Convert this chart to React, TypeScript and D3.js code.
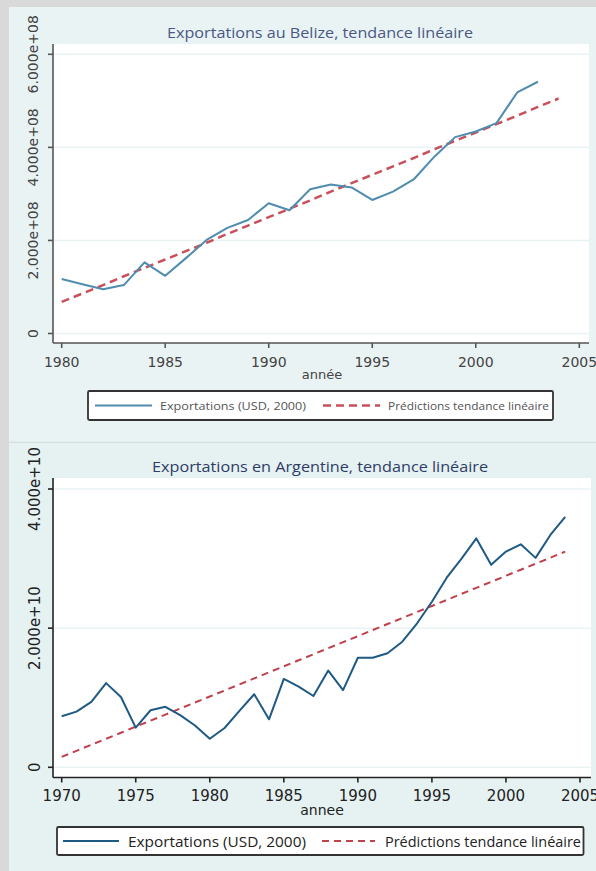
import React from "react";
import * as d3 from "d3";

const belizeYears = [1980,1981,1982,1983,1984,1985,1986,1987,1988,1989,1990,1991,1992,1993,1994,1995,1996,1997,1998,1999,2000,2001,2002,2003];
const belizeExports = [1.17e8,1.06e8,0.95e8,1.04e8,1.53e8,1.24e8,1.62e8,2.01e8,2.27e8,2.44e8,2.80e8,2.65e8,3.10e8,3.20e8,3.14e8,2.87e8,3.05e8,3.31e8,3.80e8,4.22e8,4.34e8,4.52e8,5.18e8,5.41e8];
const belizeTrendYears = [1980,1981,1982,1983,1984,1985,1986,1987,1988,1989,1990,1991,1992,1993,1994,1995,1996,1997,1998,1999,2000,2001,2002,2003,2004];
const belizeTrend = [0.68e8,0.86e8,1.04e8,1.23e8,1.41e8,1.59e8,1.77e8,1.95e8,2.14e8,2.32e8,2.50e8,2.68e8,2.86e8,3.05e8,3.23e8,3.41e8,3.59e8,3.77e8,3.96e8,4.14e8,4.32e8,4.50e8,4.68e8,4.87e8,5.05e8];
const belizeYTicks = [0, 2e8, 4e8, 6e8];
const belizeYLabels = ["0", "2.000e+08", "4.000e+08", "6.000e+08"];
const belizeXTicks = [1980, 1985, 1990, 1995, 2000, 2005];

const argYears = [1970,1971,1972,1973,1974,1975,1976,1977,1978,1979,1980,1981,1982,1983,1984,1985,1986,1987,1988,1989,1990,1991,1992,1993,1994,1995,1996,1997,1998,1999,2000,2001,2002,2003,2004];
const argExports = [0.733e10,0.80e10,0.94e10,1.21e10,1.01e10,0.57e10,0.82e10,0.87e10,0.75e10,0.60e10,0.41e10,0.565e10,0.81e10,1.05e10,0.69e10,1.27e10,1.16e10,1.025e10,1.39e10,1.11e10,1.575e10,1.575e10,1.64e10,1.805e10,2.07e10,2.38e10,2.725e10,3.0e10,3.29e10,2.91e10,3.10e10,3.205e10,3.01e10,3.34e10,3.60e10];
const argTrend = [0.150e10,0.237e10,0.324e10,0.410e10,0.497e10,0.584e10,0.671e10,0.757e10,0.844e10,0.931e10,1.018e10,1.104e10,1.191e10,1.278e10,1.365e10,1.451e10,1.538e10,1.625e10,1.712e10,1.799e10,1.885e10,1.972e10,2.059e10,2.146e10,2.232e10,2.319e10,2.406e10,2.493e10,2.579e10,2.666e10,2.753e10,2.840e10,2.926e10,3.013e10,3.100e10];
const argYTicks = [0, 2e10, 4e10];
const argYLabels = ["0", "2.000e+10", "4.000e+10"];
const argXTicks = [1970, 1975, 1980, 1985, 1990, 1995, 2000, 2005];

const legendLabels = ["Exportations (USD, 2000)", "Prédictions tendance linéaire"];

type PanelProps = {
  top: number;
  height: number;
  bg: string;
  title: string;
  titleY: number;
  titleSize: number;
  titleLen: number;
  titleColor: string;
  plot: { x0: number; x1: number; y0: number; y1: number };
  xDomain: [number, number];
  xRange: [number, number];
  yDomain: [number, number];
  yRange: [number, number];
  xTicks: number[];
  yTicks: number[];
  yLabels: string[];
  yLabelX: number;
  tickSize: number;
  tickColor: string;
  axisColor: string;
  xLabelY: number;
  xTitle: string;
  xTitleY: number;
  xTitleSize: number;
  dataX: number[];
  dataY: number[];
  trendX: number[];
  trendY: number[];
  lineColor: string;
  lineWidth: number;
  trendColor: string;
  trendWidth: number;
  dash: string;
  legend: { x0: number; x1: number; y0: number; y1: number; s1: [number, number]; t1: number; t1len: number; s2: [number, number]; t2: number; t2len: number; size: number; color: string };
};

function Panel(p: PanelProps) {
  const x = d3.scaleLinear().domain(p.xDomain).range(p.xRange);
  const y = d3.scaleLinear().domain(p.yDomain).range(p.yRange);
  const line = d3.line<number>().x((_, i) => 0).y(() => 0);
  const mk = (xs: number[], ys: number[]) =>
    d3.line<[number, number]>().x((d) => x(d[0])).y((d) => y(d[1]))(xs.map((v, i) => [v, ys[i]] as [number, number])) || "";
  void line;
  const L = p.legend;
  const ly = (L.y0 + L.y1) / 2;
  return (
    <g>
      <rect x={9} y={p.top} width={587} height={p.height} fill={p.bg} />
      <text x={320} y={p.titleY} textAnchor="middle" fontFamily="'Open Sans', sans-serif" fontSize={p.titleSize} fill={p.titleColor} textLength={p.titleLen} lengthAdjust="spacingAndGlyphs">{p.title}</text>
      <rect x={p.plot.x0} y={p.plot.y0} width={p.plot.x1 - p.plot.x0} height={p.plot.y1 - p.plot.y0} fill="#ffffff" />
      {p.yTicks.map((t) => (
        <line key={"g" + t} x1={p.plot.x0} x2={p.plot.x1} y1={y(t)} y2={y(t)} stroke="#eaf3f4" strokeWidth={1.5} />
      ))}
      <path d={mk(p.trendX, p.trendY)} fill="none" stroke={p.trendColor} strokeWidth={p.trendWidth} strokeDasharray={p.dash} />
      <path d={mk(p.dataX, p.dataY)} fill="none" stroke={p.lineColor} strokeWidth={p.lineWidth} strokeLinejoin="round" />
      <line x1={p.plot.x0} x2={p.plot.x0} y1={p.plot.y0} y2={p.plot.y1} stroke={p.axisColor} strokeWidth={1.6} />
      <line x1={p.plot.x0} x2={p.plot.x1} y1={p.plot.y1} y2={p.plot.y1} stroke={p.axisColor} strokeWidth={1.6} />
      {p.yTicks.map((t, i) => (
        <g key={"y" + t}>
          <line x1={p.plot.x0 - 5} x2={p.plot.x0} y1={y(t)} y2={y(t)} stroke={p.axisColor} strokeWidth={1.6} />
          <text transform={`translate(${p.yLabelX},${y(t)}) rotate(-90)`} textAnchor="middle" dominantBaseline="central" fontFamily="'DejaVu Sans', sans-serif" fontSize={p.tickSize} fill={p.tickColor}>{p.yLabels[i]}</text>
        </g>
      ))}
      {p.xTicks.map((t) => (
        <g key={"x" + t}>
          <line x1={x(t)} x2={x(t)} y1={p.plot.y1} y2={p.plot.y1 + 5} stroke={p.axisColor} strokeWidth={1.6} />
          <text x={x(t)} y={p.xLabelY} textAnchor="middle" dominantBaseline="central" fontFamily="'DejaVu Sans', sans-serif" fontSize={p.tickSize} fill={p.tickColor}>{t}</text>
        </g>
      ))}
      <text x={322} y={p.xTitleY} textAnchor="middle" dominantBaseline="central" fontFamily="'DejaVu Sans', sans-serif" fontSize={p.xTitleSize} fill={p.tickColor}>{p.xTitle}</text>
      <rect x={L.x0} y={L.y0} width={L.x1 - L.x0} height={L.y1 - L.y0} rx={1.5} fill="#ffffff" stroke="#333" strokeWidth={1.8} />
      <line x1={L.s1[0]} x2={L.s1[1]} y1={ly} y2={ly} stroke={p.lineColor} strokeWidth={p.lineWidth} />
      <text x={L.t1} y={ly} dominantBaseline="central" fontFamily="'Open Sans', sans-serif" fontSize={L.size} fill={L.color} textLength={L.t1len} lengthAdjust="spacingAndGlyphs">{legendLabels[0]}</text>
      <line x1={L.s2[0]} x2={L.s2[1]} y1={ly} y2={ly} stroke={p.trendColor} strokeWidth={p.trendWidth} strokeDasharray={p.dash} />
      <text x={L.t2} y={ly} dominantBaseline="central" fontFamily="'Open Sans', sans-serif" fontSize={L.size} fill={L.color} textLength={L.t2len} lengthAdjust="spacingAndGlyphs">{legendLabels[1]}</text>
    </g>
  );
}

export default function App() {
  return (
    <svg width={596} height={871} style={{ position: "absolute", left: 0, top: 0 }} xmlns="http://www.w3.org/2000/svg">
      <rect x={0} y={0} width={596} height={871} fill="#d9d9d9" />
      <Panel
        top={7} height={435} bg="#e9f3f4"
        title="Exportations au Belize, tendance linéaire" titleY={38} titleSize={14} titleLen={306} titleColor="#4a5885"
        plot={{ x0: 53, x1: 589, y0: 44, y1: 343 }}
        xDomain={[1980, 2005]} xRange={[61.7, 579.3]}
        yDomain={[0, 6e8]} yRange={[333.5, 54.3]}
        xTicks={belizeXTicks} yTicks={belizeYTicks} yLabels={belizeYLabels} yLabelX={33}
        tickSize={14} tickColor="#444" axisColor="#555"
        xLabelY={362} xTitle="année" xTitleY={374} xTitleSize={13}
        dataX={belizeYears} dataY={belizeExports} trendX={belizeTrendYears} trendY={belizeTrend}
        lineColor="#4f8cae" lineWidth={2} trendColor="#c9505b" trendWidth={2.5} dash="8,5"
        legend={{ x0: 88, x1: 553, y0: 391, y1: 420, s1: [95, 152], t1: 160, t1len: 146, s2: [323, 380], t2: 388, t2len: 161, size: 11, color: "#555" }}
      />
      <line x1={9} x2={596} y1={442} y2={442} stroke="#d6e3e5" strokeWidth={1} />
      <Panel
        top={443} height={428} bg="#e6f1f2"
        title="Exportations en Argentine, tendance linéaire" titleY={472} titleSize={15} titleLen={336} titleColor="#2d3d66"
        plot={{ x0: 53, x1: 591, y0: 478, y1: 777.5 }}
        xDomain={[1970, 2005]} xRange={[61.7, 580]}
        yDomain={[0, 4e10]} yRange={[767.3, 489]}
        xTicks={argXTicks} yTicks={argYTicks} yLabels={argYLabels} yLabelX={35}
        tickSize={15} tickColor="#222" axisColor="#222"
        xLabelY={796} xTitle="annee" xTitleY={810} xTitleSize={14}
        dataX={argYears} dataY={argExports} trendX={argYears} trendY={argTrend}
        lineColor="#1f5a85" lineWidth={2} trendColor="#c0404c" trendWidth={2} dash="7,5"
        legend={{ x0: 57, x1: 583.5, y0: 827, y1: 855, s1: [63, 119], t1: 128, t1len: 178, s2: [322, 375], t2: 385, t2len: 196, size: 14, color: "#222" }}
      />
    </svg>
  );
}
